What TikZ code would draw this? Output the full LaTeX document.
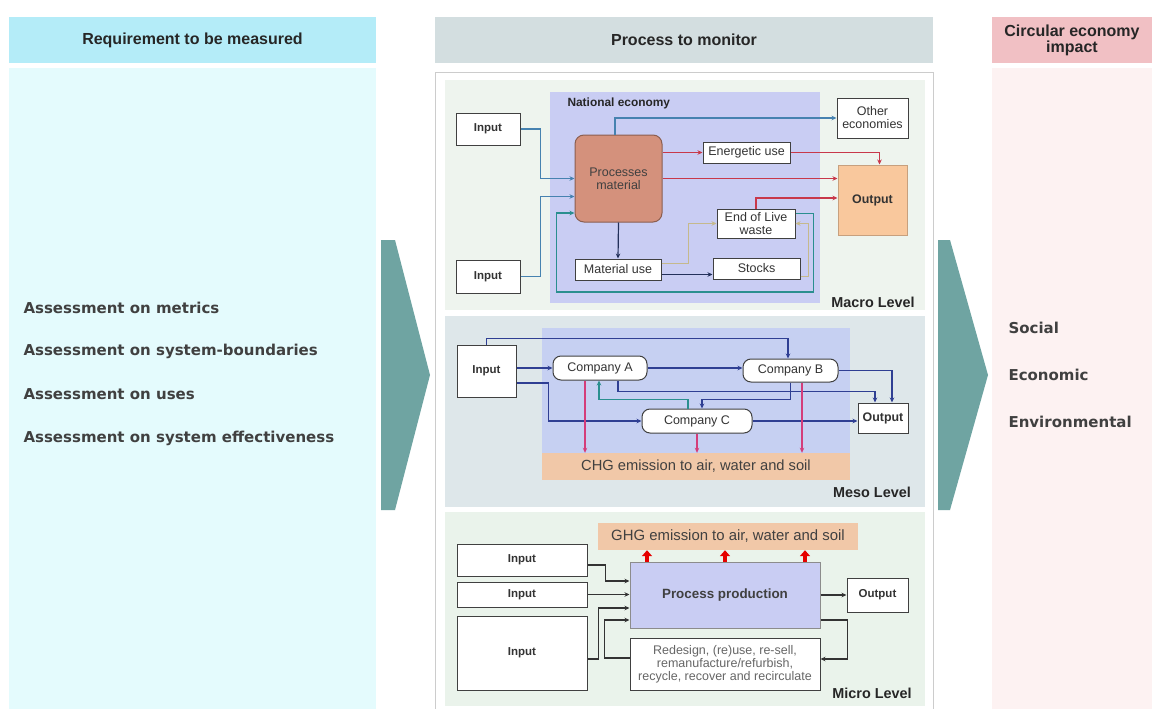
\documentclass[tikz,border=0pt]{standalone}
\usepackage{fontspec}
\setmainfont{Liberation Sans}
\newfontfamily\listfont{DejaVu Sans}
\usetikzlibrary{arrows.meta,positioning}
\definecolor{hdrL}{RGB}{180,236,248}
\definecolor{panL}{RGB}{228,251,253}
\definecolor{hdrC}{RGB}{211,222,224}
\definecolor{hdrR}{RGB}{241,192,196}
\definecolor{panR}{RGB}{253,242,242}
\definecolor{chev}{RGB}{111,164,162}
\definecolor{macroBG}{RGB}{238,244,238}
\definecolor{mesoBG}{RGB}{222,231,234}
\definecolor{microBG}{RGB}{234,243,235}
\definecolor{lav}{RGB}{201,205,243}
\definecolor{mesoLav}{RGB}{198,208,242}
\definecolor{procBG}{RGB}{212,145,124}
\definecolor{procLine}{RGB}{139,94,79}
\definecolor{outBG}{RGB}{249,200,157}
\definecolor{emisBG}{RGB}{241,200,168}
\definecolor{flowBlue}{RGB}{70,130,176}
\definecolor{flowRed}{RGB}{200,56,74}
\definecolor{flowTeal}{RGB}{42,143,143}
\definecolor{flowNavy}{RGB}{35,48,90}
\definecolor{flowTan}{RGB}{197,185,140}
\definecolor{mesoNavy}{RGB}{47,63,147}
\definecolor{flowPink}{RGB}{212,61,122}
\begin{document}
\begin{tikzpicture}[x=1pt,y=-1pt,>={Stealth[length=5pt,width=4.5pt]},
hdr/.style={minimum height=46pt,inner sep=0pt,align=center,text=black!85,font=\fontsize{16}{14}\selectfont\bfseries},
box/.style={draw=black!75,fill=white,line width=1pt,inner sep=1pt,align=center,text=black!80,font=\fontsize{12.5}{13}\selectfont},
inbox/.style={box,font=\fontsize{11.5}{13}\selectfont\bfseries},
cobox/.style={box,rounded corners=8pt},
lvl/.style={text=black!85,font=\fontsize{14.4}{16}\selectfont\bfseries},
item/.style={anchor=west,text=black!75,font=\listfont\fontsize{15}{17}\selectfont\bfseries},
flow/.style={line width=1.2pt,->}]
\useasboundingbox[fill=white] (0,0) rectangle (1157,709);
% columns
\fill[panL] (9,68) rectangle (376,709);
\fill[panR] (992,68) rectangle (1152,709);
\draw[black!20,fill=white] (435,72) rectangle (933,712);
\node[hdr,fill=hdrL,minimum width=367pt] (hL) at (192.5,40) {Requirement to be measured};
\node[hdr,fill=hdrC,minimum width=498pt] (hC) at (684,40) {Process to monitor};
\node[hdr,fill=hdrR,minimum width=160pt] (hR) at (1072,40) {Circular economy\\impact};
\fill[chev] (381,240) -- (395,240) -- (430,375) -- (395,510) -- (381,510) -- cycle;
\fill[chev] (938,240) -- (950,240) -- (988,375) -- (950,510) -- (938,510) -- cycle;
\node[item] (a1) at (20,308) {Assessment on metrics};
\node[item] (a2) at (20,351) {Assessment on system-boundaries};
\node[item] (a3) at (20,394) {Assessment on uses};
\node[item] (a4) at (20,438) {Assessment on system effectiveness};
\node[item] (r1) at (1005,328) {Social};
\node[item] (r2) at (1005,375) {Economic};
\node[item] (r3) at (1005,422) {Environmental};
% level panels
\fill[macroBG] (445,80) rectangle (925,310);
\fill[mesoBG] (445,316) rectangle (925,507);
\fill[microBG] (445,512) rectangle (925,706);
% macro level
\fill[lav] (550,92) rectangle (820,303);
\node[anchor=west,text=black!85,font=\fontsize{11.9}{13}\selectfont\bfseries] (nat) at (564,103) {National economy};
\node[inbox,minimum width=64pt,minimum height=32pt] (in1) at (488,129) {Input};
\node[inbox,minimum width=64pt,minimum height=33pt] (in2) at (488,276.5) {Input};
\node[box,draw=procLine,fill=procBG,rounded corners=9pt,text=black!75,minimum width=87pt,minimum height=87pt] (proc) at (618.5,178.5) {Processes\\material};
\node[box,minimum width=87pt,minimum height=21pt] (ener) at (746.5,152.5) {Energetic use};
\node[box,minimum width=71pt,minimum height=40pt] (other) at (872.5,118) {Other\\economies};
\node[box,draw=outBG!80!black,fill=outBG,font=\fontsize{12.4}{13}\selectfont\bfseries,minimum width=69pt,minimum height=70pt] (mout) at (872.5,200) {Output};
\node[box,minimum width=78pt,minimum height=29pt] (eol) at (756,223.5) {End of Live\\waste};
\node[box,minimum width=86pt,minimum height=21pt] (muse) at (618,269.5) {Material use};
\node[box,minimum width=87pt,minimum height=21pt] (stocks) at (756.5,268.5) {Stocks};
\node[lvl] (macro) at (873,302) {Macro Level};
\draw[flow,flowBlue] (in1.east) -- ++(20,0) |- (proc.west);
\draw[flow,flowBlue] (in2.east) -- ++(20,0) |- ([yshift=-18pt]proc.west);
\draw[flow,flowTeal] ([yshift=10pt]eol.east) -- ++(18,0) -- ++(0,78.5) -| ([xshift=-18pt,yshift=-34.5pt]proc.west) -- ([yshift=-34.5pt]proc.west);
\draw[flow,flowBlue] ([xshift=-3.5pt]proc.north) |- (other.west);
\draw[flow,flowRed] (proc.east |- ener.west) -- (ener.west);
\draw[flow,flowRed] (ener.east) -| ([xshift=7pt]mout.north);
\draw[flow,flowRed] (proc.east) -- (proc.east -| mout.west);
\draw[flow,flowRed] (eol.north) |- ([yshift=2pt]mout.west);
\draw[flow,flowNavy] (proc.south) -- (muse.north);
\draw[flow,flowNavy] ([yshift=-5pt]muse.east) -- ([yshift=-5pt]muse.east -| stocks.west);
\draw[flow,flowTan] ([yshift=6pt]muse.east) -- ++(27,0) |- (eol.west);
\draw[flow,flowTan] ([yshift=-8pt]stocks.east) -- ++(8,0) |- (eol.east);
% meso level
\fill[mesoLav] (542,328) rectangle (850,453);
\node[fill=emisBG,minimum width=308pt,minimum height=27pt,inner sep=0pt,text=black!75,font=\fontsize{14.7}{16}\selectfont] (chg) at (696,466.5) {CHG emission to air, water and soil};
\node[inbox,minimum width=59pt,minimum height=52pt] (min) at (486.5,371) {Input};
\node[cobox,minimum width=94pt,minimum height=24pt] (ca) at (600,368) {Company A};
\node[cobox,minimum width=95pt,minimum height=23pt] (cb) at (790.5,370.5) {Company B};
\node[cobox,minimum width=110pt,minimum height=24pt] (cc) at (697,421) {Company C};
\node[inbox,font=\fontsize{12.4}{13}\selectfont\bfseries,minimum width=50pt,minimum height=30pt] (mso) at (883,418) {Output};
\node[lvl] (meso) at (872,492) {Meso Level};
\draw[flow,mesoNavy] (min.north) -- ++(0,-6) -| ([xshift=-2.5pt]cb.north);
\draw[flow,mesoNavy] (min.east |- ca.west) -- (ca.west);
\draw[flow,mesoNavy] ([yshift=-12pt]min.east) -- ++(32,0) |- (cc.west);
\draw[flow,mesoNavy] (ca.east) -- (ca.east -| cb.west);
\draw[flow,mesoNavy] ([xshift=18pt]ca.south) -- ++(0,11) -| ([xshift=-8pt]mso.north);
\draw[flow,mesoNavy] (cb.east) -| ([xshift=9pt]mso.north);
\draw[flow,mesoNavy] (cb.south) -- ++(0,17) -| ([xshift=5pt]cc.north);
\draw[flow,flowTeal] ([xshift=-9pt]cc.north) -- ++(0,-9) -| ([xshift=-1pt]ca.south);
\draw[flow,mesoNavy] (cc.east) -- (cc.east -| mso.west);
\draw[flow,flowPink] ([xshift=-15pt]ca.south) -- ([xshift=-15pt]ca.south |- chg.north);
\draw[flow,flowPink] (cc.south) -- (cc.south |- chg.north);
\draw[flow,flowPink] ([xshift=11.5pt]cb.south) -- ([xshift=11.5pt]cb.south |- chg.north);
% micro level
\node[fill=emisBG,minimum width=260pt,minimum height=27pt,inner sep=0pt,text=black!75,font=\fontsize{14.9}{16}\selectfont] (ghg) at (728,536.5) {GHG emission to air, water and soil};
\node[box,draw=black!45,fill=lav,text=black!75,font=\fontsize{13.4}{15}\selectfont\bfseries,minimum width=190pt,minimum height=66pt] (prod) at (725,595) {Process production};
\node[inbox,minimum width=130pt,minimum height=32pt] (ui1) at (522,560) {Input};
\node[inbox,minimum width=130pt,minimum height=25pt] (ui2) at (522,594.5) {Input};
\node[inbox,minimum width=130pt,minimum height=74pt] (ui3) at (522,653) {Input};
\node[inbox,minimum width=61pt,minimum height=34pt] (uout) at (877.5,595) {Output};
\node[box,text=black!60,font=\fontsize{12.5}{13}\selectfont,minimum width=190pt,minimum height=52pt] (redes) at (725,664) {Redesign, (re)use, re-sell,\\remanufacture/refurbish,\\recycle, recover and recirculate};
\node[lvl] (micro) at (872,693) {Micro Level};
\draw[flow,black!80] ([yshift=-5pt]ui1.east) -- ++(18,0) |- ([yshift=14pt]prod.west);
\draw[flow,black!80] (ui2.east) -- (ui2.east -| prod.west);
\draw[flow,black!80] ([yshift=-6pt]ui3.east) -- ++(11,0) |- ([yshift=-13pt]prod.west);
\draw[flow,black!80] ([yshift=6pt]redes.west) -- ++(-25,0) |- ([yshift=-25pt]prod.west);
\draw[flow,black!80] (prod.east) -- (uout.west);
\draw[flow,black!80] ([yshift=-25pt]prod.east) -- ++(27,0) |- ([yshift=5pt]redes.east);
\foreach \dx in {-78,0,80}
  \draw[line width=4pt,red!90!black,-{Triangle[length=6pt,width=10pt]}] ([xshift=\dx pt]prod.north) -- ([xshift=\dx pt]prod.north |- ghg.south);
\end{tikzpicture}
\end{document}
